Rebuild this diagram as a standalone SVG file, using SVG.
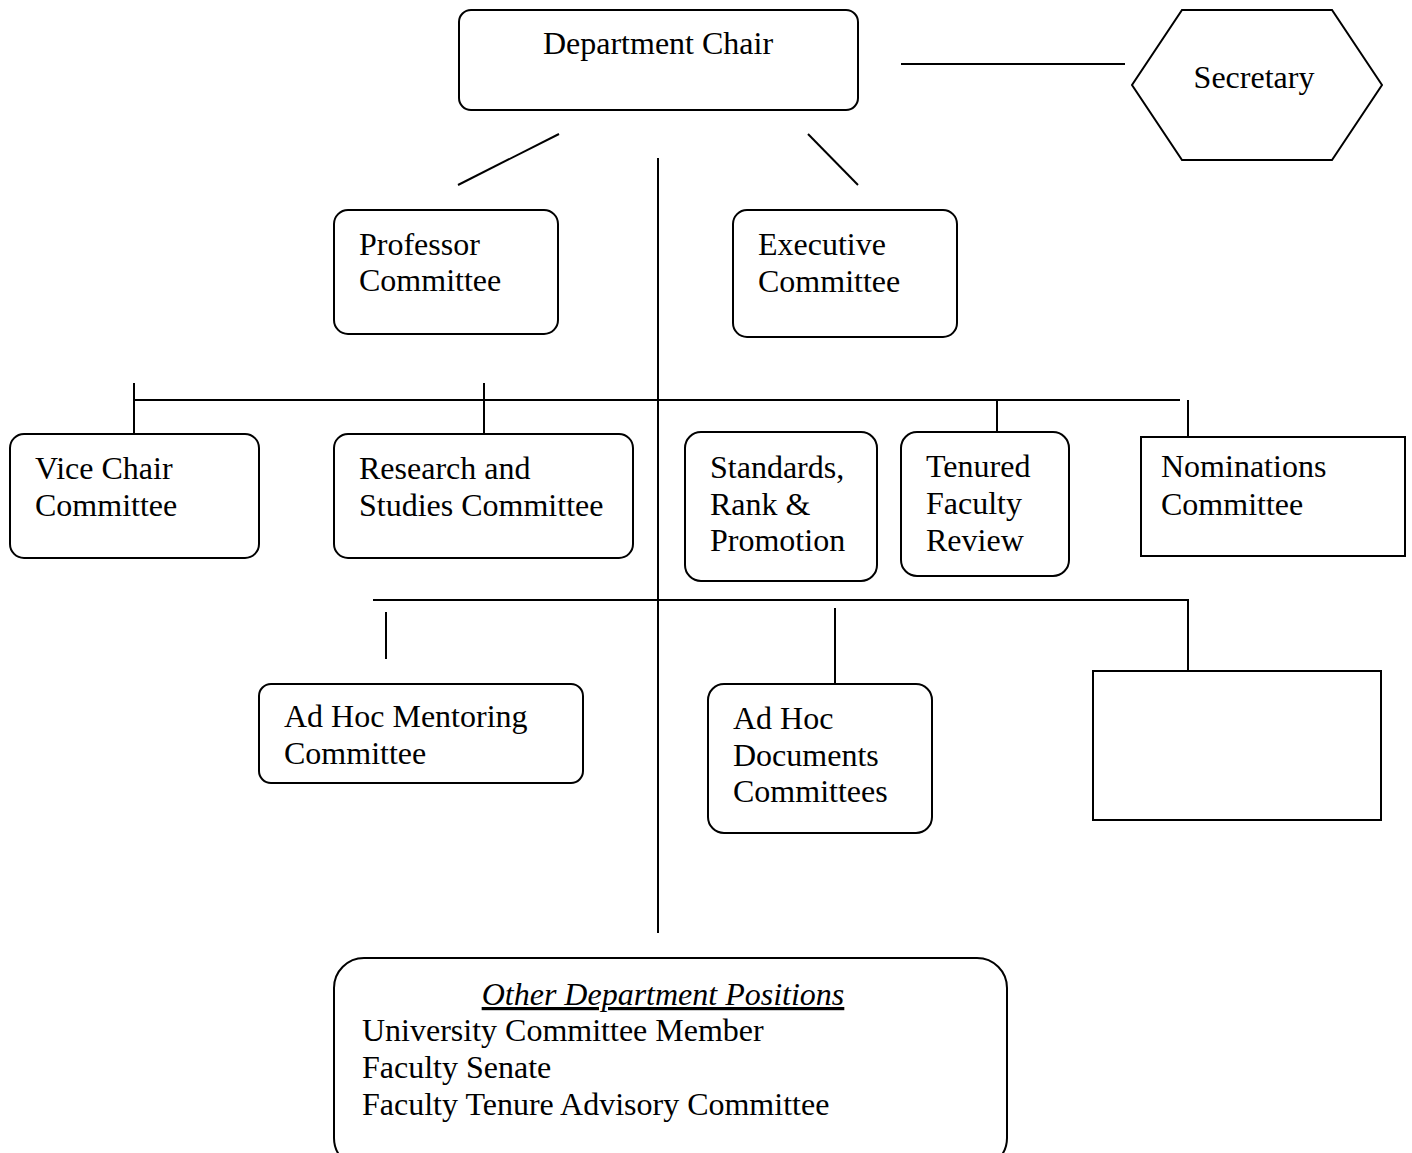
<svg xmlns="http://www.w3.org/2000/svg" width="1412" height="1153" viewBox="0 0 1412 1153">
<style>
.box{fill:#fff;stroke:#000;stroke-width:2}
.ln{stroke:#000;stroke-width:2;fill:none}
text{font-family:"Liberation Serif","Times New Roman",serif;font-size:32px;fill:#000}
.c{text-anchor:middle}
</style>
<rect width="1412" height="1153" fill="#fff"/>
<g id="connectors">
<line class="ln" x1="901" y1="64" x2="1125" y2="64"/>
<line class="ln" x1="559" y1="134" x2="458" y2="185"/>
<line class="ln" x1="808" y1="134" x2="858" y2="185"/>
<line class="ln" x1="658" y1="158" x2="658" y2="933"/>
<line class="ln" x1="133" y1="400" x2="1180" y2="400"/>
<line class="ln" x1="134" y1="383" x2="134" y2="434"/>
<line class="ln" x1="484" y1="383" x2="484" y2="434"/>
<line class="ln" x1="997" y1="400" x2="997" y2="450"/>
<line class="ln" x1="1188" y1="400" x2="1188" y2="437"/>
<polyline class="ln" points="373,600 1188,600 1188,671"/>
<line class="ln" x1="386" y1="612" x2="386" y2="659"/>
<line class="ln" x1="835" y1="608" x2="835" y2="684"/>
</g>
<g id="department-chair">
<rect class="box" x="459" y="10" width="399" height="100" rx="12"/>
<text class="c" x="658" y="54">Department Chair</text>
</g>
<g id="secretary">
<polygon class="box" points="1182,10 1332,10 1382,85 1332,160 1182,160 1132,85"/>
<text class="c" x="1254" y="88">Secretary</text>
</g>
<g id="professor-committee">
<rect class="box" x="334" y="210" width="224" height="124" rx="14"/>
<text x="359" y="255">Professor</text>
<text x="359" y="291">Committee</text>
</g>
<g id="executive-committee">
<rect class="box" x="733" y="210" width="224" height="127" rx="14"/>
<text x="758" y="255">Executive</text>
<text x="758" y="292">Committee</text>
</g>
<g id="vice-chair">
<rect class="box" x="10" y="434" width="249" height="124" rx="14"/>
<text x="35" y="479">Vice Chair</text>
<text x="35" y="516">Committee</text>
</g>
<g id="research">
<rect class="box" x="334" y="434" width="299" height="124" rx="14"/>
<text x="359" y="479">Research and</text>
<text x="359" y="516">Studies Committee</text>
</g>
<g id="standards">
<rect class="box" x="685" y="432" width="192" height="149" rx="16"/>
<text x="710" y="478">Standards,</text>
<text x="710" y="515">Rank &amp;</text>
<text x="710" y="551">Promotion</text>
</g>
<g id="tenured">
<rect class="box" x="901" y="432" width="168" height="144" rx="16"/>
<text x="926" y="477">Tenured</text>
<text x="926" y="514">Faculty</text>
<text x="926" y="551">Review</text>
</g>
<g id="nominations">
<rect class="box" x="1141" y="437" width="264" height="119"/>
<text x="1161" y="477">Nominations</text>
<text x="1161" y="515">Committee</text>
</g>
<g id="ad-hoc-mentoring">
<rect class="box" x="259" y="684" width="324" height="99" rx="12"/>
<text x="284" y="727">Ad Hoc Mentoring</text>
<text x="284" y="764">Committee</text>
</g>
<g id="ad-hoc-documents">
<rect class="box" x="708" y="684" width="224" height="149" rx="16"/>
<text x="733" y="729">Ad Hoc</text>
<text x="733" y="766">Documents</text>
<text x="733" y="802">Committees</text>
</g>
<g id="empty-box">
<rect class="box" x="1093" y="671" width="288" height="149"/>
</g>
<g id="other-positions">
<rect class="box" x="334" y="958" width="673" height="210" rx="30"/>
<text class="c" x="663" y="1005" font-style="italic" text-decoration="underline">Other Department Positions</text>
<text x="362" y="1041">University Committee Member</text>
<text x="362" y="1078">Faculty Senate</text>
<text x="362" y="1115">Faculty Tenure Advisory Committee</text>
</g>
</svg>
